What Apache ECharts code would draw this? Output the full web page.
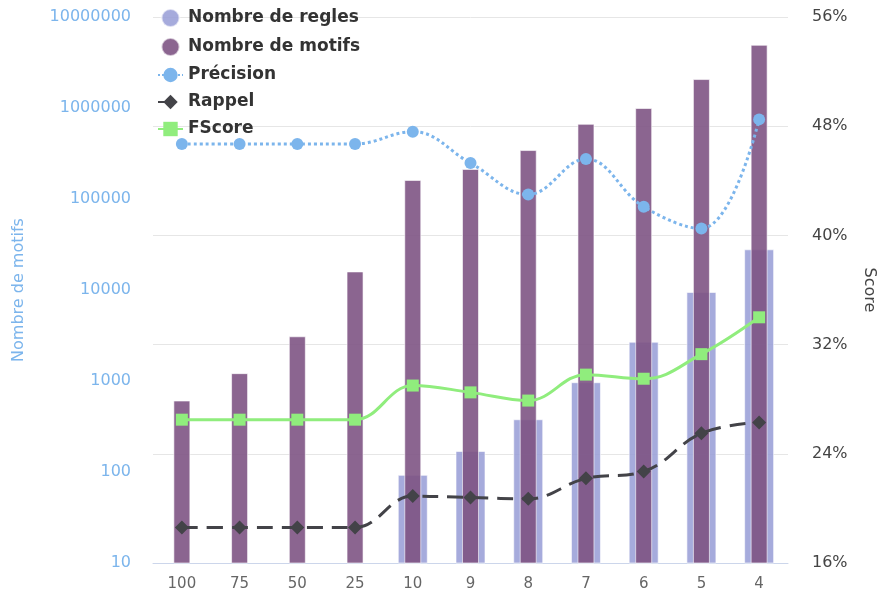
<!DOCTYPE html>
<html>
<head>
<meta charset="utf-8">
<script src="https://cdn.jsdelivr.net/npm/echarts@6/dist/echarts.min.js"></script>
<style>
html,body{margin:0;padding:0;background:#fff;}
#chart{width:885px;height:596px;}
</style>
</head>
<body>
<div id="chart"></div>
<script>
var categories = ['100', '75', '50', '25', '10', '9', '8', '7', '6', '5', '4'];
var regles = [null, null, null, null, 93, 170, 380, 970, 2700, 9500, 28000];
var motifs = [610, 1220, 3100, 16000, 162000, 214000, 345000, 670000, 1000000, 2080000, 4950000];
var precision = [46.7, 46.7, 46.7, 46.7, 47.6, 45.3, 43.0, 45.6, 42.1, 40.5, 48.5];
var rappel = [18.6, 18.6, 18.6, 18.6, 20.9, 20.8, 20.7, 22.2, 22.7, 25.5, 26.3];
var fscore = [26.5, 26.5, 26.5, 26.5, 29.0, 28.5, 27.9, 29.8, 29.5, 31.3, 34.0];
var scoreTicks = [16, 56, 8];

var font = 'DejaVu Sans';
var chart = echarts.init(document.getElementById('chart'));
chart.setOption({
  animation: false,
  textStyle: { fontFamily: font },
  grid: { left: 153, right: 88, top: 17, bottom: 33 },
  legend: {
    orient: 'vertical', left: 152, top: 3, itemGap: 9, itemWidth: 25, itemHeight: 18,
    textStyle: { fontSize: 17, fontWeight: 'bold', color: '#333', fontFamily: font, lineHeight: 18 },
    data: [
      { name: 'Nombre de regles', icon: 'circle' },
      { name: 'Nombre de motifs', icon: 'circle' },
      { name: 'Précision' },
      { name: 'Rappel' },
      { name: 'FScore' }
    ]
  },
  xAxis: [
    {
      type: 'category', data: categories,
      axisLine: { lineStyle: { color: '#ccd6eb', width: 1 } },
      axisTick: { length: 10, lineStyle: { color: '#ccd6eb' } },
      axisLabel: { color: '#666', fontSize: 15, margin: 14 },
      splitLine: { show: false }
    },
    { type: 'category', data: categories, show: false }
  ],
  yAxis: [
    {
      type: 'log', logBase: 10, min: 10, max: 10000000,
      name: 'Nombre de motifs', nameLocation: 'middle', nameGap: 126,
      nameTextStyle: { color: '#7cb5ec', fontSize: 16 },
      axisLine: { show: false }, axisTick: { show: false },
      axisLabel: { color: '#7cb5ec', fontSize: 16, margin: 22, formatter: function (v) { return String(Math.round(v)); } },
      splitLine: { show: false }
    },
    {
      type: 'value', min: scoreTicks[0], max: scoreTicks[1], interval: scoreTicks[2],
      position: 'right',
      name: 'Score', nameLocation: 'middle', nameGap: 73, nameRotate: -90,
      nameTextStyle: { color: '#444', fontSize: 16 },
      axisLine: { show: false }, axisTick: { show: false },
      axisLabel: { color: '#444', fontSize: 16, margin: 24, formatter: '{value}%' },
      splitLine: { lineStyle: { color: '#e6e6e6', width: 1 } }
    }
  ],
  series: [
    {
      name: 'Nombre de regles', type: 'bar', xAxisIndex: 0, yAxisIndex: 0,
      barWidth: 30, data: regles,
      itemStyle: { color: 'rgba(150,156,214,0.85)', borderColor: 'rgba(255,255,255,0.6)', borderWidth: 1 },
      z: 1
    },
    {
      name: 'Nombre de motifs', type: 'bar', xAxisIndex: 1, yAxisIndex: 0,
      barWidth: 17, data: motifs,
      itemStyle: { color: 'rgba(126,84,132,0.9)', borderColor: 'rgba(255,255,255,0.6)', borderWidth: 1 },
      z: 2
    },
    {
      name: 'Précision', type: 'line', xAxisIndex: 0, yAxisIndex: 1, smooth: 0.4,
      data: precision, symbol: 'circle', symbolSize: 12,
      lineStyle: { color: '#7cb5ec', width: 3, type: 'dotted' },
      itemStyle: { color: '#7cb5ec' }, z: 5
    },
    {
      name: 'Rappel', type: 'line', xAxisIndex: 0, yAxisIndex: 1, smooth: 0.4,
      data: rappel, symbol: 'diamond', symbolSize: 14,
      lineStyle: { color: '#434348', width: 3, type: [16, 9] },
      itemStyle: { color: '#434348' }, z: 5
    },
    {
      name: 'FScore', type: 'line', xAxisIndex: 0, yAxisIndex: 1, smooth: 0.4,
      data: fscore, symbol: 'rect', symbolSize: 12,
      lineStyle: { color: '#90ed7d', width: 3 },
      itemStyle: { color: '#90ed7d' }, z: 5
    }
  ]
});
</script>
</body>
</html>
